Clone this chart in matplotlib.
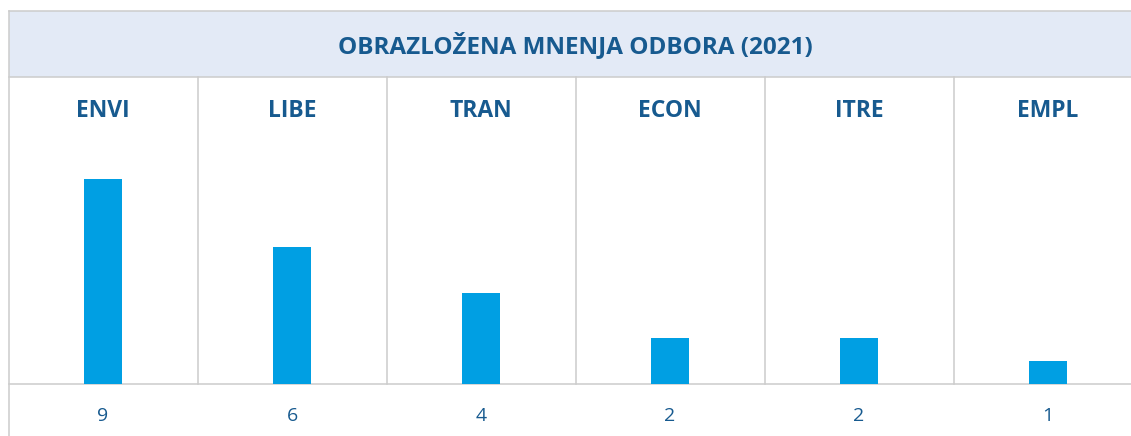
import matplotlib
matplotlib.use("Agg")
import matplotlib.pyplot as plt
from matplotlib.patches import Rectangle
import matplotlib.transforms as mtransforms

title = "OBRAZLOŽENA MNENJA ODBORA (2021)"
categories = ["ENVI", "LIBE", "TRAN", "ECON", "ITRE", "EMPL"]
values = [9, 6, 4, 2, 2, 1]

W, H = 1131, 436
plt.rcParams['font.family'] = ['Open Sans', 'DejaVu Sans']
fig = plt.figure(figsize=(W / 100, H / 100), dpi=100)

TEXT = "#175a8f"
BAR = "#009fe3"
GRID = "#cccccc"
HEAD = "#e3eaf6"

# geometry in pixels (from top)
x0 = 8.5
colw = 189
ncol = len(categories)
x1 = x0 + ncol * colw
top = 11
head_bot = 77
base = 384

def fx(px):
    return px / W

def fy(py):
    return 1 - py / H

# background drawing axes in pixel coordinates
bg = fig.add_axes([0, 0, 1, 1])
bg.set_xlim(0, W)
bg.set_ylim(H, 0)
bg.axis("off")
bg.add_patch(Rectangle((x0, top), x1 - x0, head_bot - top, facecolor=HEAD, edgecolor="none", zorder=0))
lw = 1.1
bg.plot([x0, x1], [top, top], color=GRID, lw=lw, zorder=2)
bg.plot([x0, x1], [head_bot, head_bot], color=GRID, lw=lw, zorder=2)
bg.plot([x0, x1], [base, base], color=GRID, lw=lw, zorder=2)
bg.plot([x0, x0], [top, H], color=GRID, lw=lw, zorder=2)
for i in range(1, ncol):
    xx = x0 + i * colw
    bg.plot([xx, xx], [head_bot, base], color=GRID, lw=lw, zorder=2)
bg.text(575, 46, title, ha="center", va="center", fontsize=17.5,
        fontweight="bold", color=TEXT)

# bar axes
px_per_unit = 22.8
ymax = (base - head_bot) / px_per_unit
ax = fig.add_axes([fx(x0), fy(base), fx(x1 - x0), (base - head_bot) / H])
ax.patch.set_alpha(0)
ax.bar(range(ncol), values, width=38 / colw, color=BAR, zorder=3)
ax.set_xlim(-0.5, ncol - 0.5)
ax.set_ylim(0, ymax)
ax.axis("off")

trans = mtransforms.blended_transform_factory(ax.transData, fig.transFigure)
for i, (c, v) in enumerate(zip(categories, values)):
    ax.text(i, fy(111), c, transform=trans, ha="center", va="center",
            fontsize=16.5, fontweight="bold", color=TEXT, clip_on=False)
    ax.text(i, fy(416), str(v), transform=trans, ha="center", va="center",
            fontsize=14, color=TEXT, clip_on=False)

fig.savefig("out.png", dpi=100)
